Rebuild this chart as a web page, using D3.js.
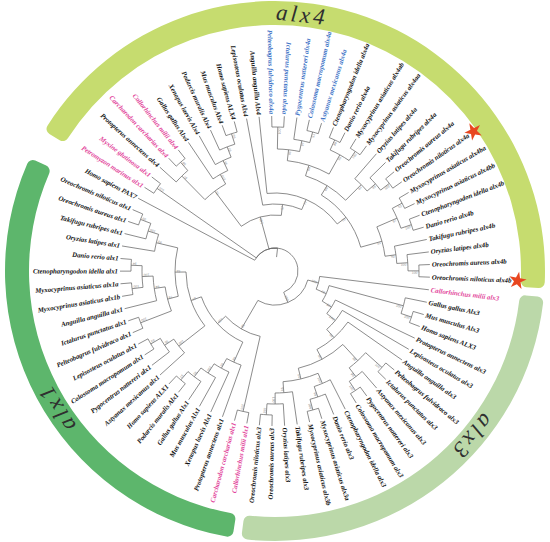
<!DOCTYPE html>
<html>
<head>
<meta charset="utf-8">
<script src="https://cdn.jsdelivr.net/npm/d3@7"></script>
<style>
body { margin: 0; background: #fff; }
.leaf { font-family: "Liberation Serif", "Times New Roman", serif; font-style: italic; font-weight: bold; font-size: 6.8px; }
.boot { font-family: "Liberation Sans", Arial, sans-serif; font-size: 3.4px; fill: #8a8a8a; }
.clade-label { font-family: "Liberation Serif", serif; font-style: italic; font-size: 23px; fill: #2f2f2f; }
</style>
</head>
<body>
<script>
// leaf names, clockwise from the PAX7 outgroup
var leafNames = [
    "Homo sapiens PAX7", "Petromyzon marinus alx1", "Myxine glutinosa alx1",
    "Protopterus annectens alx4", "Carcharodon carcharias alx4", "Callorhinchus milii alx4",
    "Gallus gallus Alx4", "Xenopus laevis Alx4", "Podarcis muralis Alx4", "Mus musculus Alx4",
    "Homo sapiens ALX4", "Lepisosteus oculatus Alx4", "Anguilla anguilla Alx4",
    "Pelteobagrus fulvidraco alx4a", "Ictalurus punctatus alx4a", "Pygocentrus nattereri alx4a",
    "Colossoma macropomum alx4a", "Astyanax mexicanus alx4a", "Ctenopharyngodon idella alx4a",
    "Danio rerio alx4a", "Myxocyprinus asiaticus alx4ab", "Myxocyprinus asiaticus alx4aa",
    "Oryzias latipes alx4a", "Takifugu rubripes alx4a", "Oreochromis aureus alx4a",
    "Oreochromis niloticus alx4a", "Myxocyprinus asiaticus alx4ba", "Myxocyprinus asiaticus alx4bb",
    "Ctenopharyngodon idella alx4b", "Danio rerio alx4b", "Takifugu rubripes alx4b",
    "Oryzias latipes alx4b", "Oreochromis aureus alx4b", "Oreochromis niloticus alx4b",
    "Callorhinchus milii alx3", "Gallus gallus Alx3", "Mus musculus Alx3", "Homo sapiens ALX3",
    "Protopterus annectens alx3", "Lepisosteus oculatus alx3", "Anguilla anguilla alx3",
    "Pelteobagrus fulvidraco alx3", "Ictalurus punctatus alx3", "Astyanax mexicanus alx3",
    "Pygocentrus nattereri alx3", "Colossoma macropomum alx3", "Ctenopharyngodon idella alx3",
    "Danio rerio alx3", "Myxocyprinus asiaticus alx3a", "Myxocyprinus asiaticus alx3b",
    "Takifugu rubripes alx3", "Oryzias latipes alx3", "Oreochromis aureus alx3",
    "Oreochromis niloticus alx3", "Callorhinchus milii alx1", "Carcharodon carcharias alx1",
    "Protopterus annectens alx1", "Xenopus laevis Alx1", "Mus musculus Alx1", "Gallus gallus Alx1",
    "Podarcis muralis Alx1", "Homo sapiens ALX1", "Astyanax mexicanus alx1",
    "Pygocentrus nattereri alx1", "Colossoma macropomum alx1", "Lepisosteus oculatus alx1",
    "Pelteobagrus fulvidraco alx1", "Ictalurus punctatus alx1", "Anguilla anguilla alx1",
    "Myxocyprinus asiaticus alx1b", "Myxocyprinus asiaticus alx1a", "Ctenopharyngodon idella alx1",
    "Danio rerio alx1", "Oryzias latipes alx1", "Takifugu rubripes alx1",
    "Oreochromis aureus alx1", "Oreochromis niloticus alx1"
];
var pinkLeaves = [1, 2, 4, 5, 34, 54, 55];
var blueLeaves = [13, 14, 15, 16, 17];
var starLeaves = [25, 33];

var cladeNames = ["alx4", "alx3", "alx1"];
var cladeFirst = [1, 34, 54];
var cladeLast = [33, 53, 76];

// topology: leaf indices, bootstrap after each ")"
var f4cart = "(3,(4,5)98)87";
var f4tet = "(6,(7,(8,(9,10)99)97)95)100";
var f4blue = "((13,14)100,(15,(16,17)51)97)66";
var f4cyp = "((18,19)88,(20,21)100)95";
var f4acA = "(22,(23,(24,25)100)99)93";
var f4b = "(((26,27)52,(28,29)100)97,(30,(31,(32,33)100)100)93)51";
var shapeAlx4 = "((" + f4cart + "," + f4tet + ")75,(11,(12,(((" + f4blue + "," + f4cyp + ")84," + f4acA + ")88," + f4b + ")75)77)57)100";

var f3tet = "(35,(36,37)100)100";
var f3sil = "(41,42)100";
var f3cha = "(43,(44,45)100)99";
var f3cyp = "(46,(47,(48,49)100)99)100";
var f3ac = "(50,(51,(52,53)100)100)97";
var shapeAlx3 = "(34,(" + f3tet + ",(38,(39,(40,((" + f3sil + "," + f3cha + ")88,(" + f3cyp + "," + f3ac + ")54)93)99)100)96)75)100";

var f1tet = "(57,(58,(59,(60,61)97)90)100)99";
var f1cha = "(62,(63,(64,65)93)96)100";
var f1cyp = "((69,70)100,(71,72)94)100";
var f1ac = "(73,(74,(75,76)99)100)93";
var shapeAlx1 = "((54,55)100,((56," + f1tet + ")98,(" + f1cha + ",(((66,67)100,(68," + f1cyp + ")94)78," + f1ac + ")54)87)100)98";

var treeShape = "(0,(1,2)100," + shapeAlx4 + ",(" + shapeAlx3 + "," + shapeAlx1 + ")100)";

function parseShape(s)
{
    var i = 0;
    function node()
    {
        if (s[i] === "(")
        {
            i++;
            var kids = [node()];
            while (s[i] === ",") { i++; kids.push(node()); }
            i++;
            var num = "";
            while (i < s.length && /[0-9]/.test(s[i])) num += s[i++];
            return { children: kids, support: num };
        }
        var n = "";
        while (/[0-9]/.test(s[i])) n += s[i++];
        return { leaf: +n };
    }
    return node();
}

var W = 550, H = 542, cx = 275, cy = 271;
var nLeaves = leafNames.length;
var step = 360 / nLeaves;

var svg = d3.select("body").append("svg")
    .attr("width", W)
    .attr("height", H);
var g = svg.append("g")
    .attr("transform", "translate(" + cx + "," + cy + ")");

var root = d3.hierarchy(parseShape(treeShape));
d3.cluster().size([1, 1]).separation(function() { return 1; })(root);

var angle = d3.scaleLinear().domain([0, 1]).range([-62 - step / 2, -62 - step / 2 + 360]);
var radius = d3.scaleLinear().domain([0, 1]).range([23, 155]);

var leafNode = [];
root.leaves().forEach(function(d) { leafNode[d.data.leaf] = d; });

function rad(a) { return a * Math.PI / 180; }
function px(a, r) { return r * Math.sin(rad(a)); }
function py(a, r) { return -r * Math.cos(rad(a)); }

// coloured ring
var ring = d3.arc().innerRadius(246).outerRadius(270).cornerRadius(6);
var ringColors = ["#c6dc6f", "#bbd8a9", "#5db66c"];
cladeNames.forEach(function(name, k)
{
    var a0 = angle(leafNode[cladeFirst[k]].x) - step * 0.3;
    var a1 = angle(leafNode[cladeLast[k]].x) + step * 0.3;
    g.append("path")
        .attr("d", ring({ startAngle: rad(a0), endAngle: rad(a1) }))
        .attr("fill", ringColors[k]);
});

var labelAngles = [6, 130, 238];
cladeNames.forEach(function(name, k)
{
    var a = labelAngles[k];
    g.append("text")
        .attr("class", "clade-label")
        .attr("transform", "translate(" + px(a, 257) + "," + py(a, 257) + ") rotate(" + a + ")")
        .attr("text-anchor", "middle")
        .attr("dy", "0.3em")
        .attr("letter-spacing", 3)
        .text(name);
});

// branches
function linkStep(a0, r0, a1, r1)
{
    var p = "M" + px(a0, r0) + "," + py(a0, r0);
    if (a0 !== a1)
        p += "A" + r0 + "," + r0 + " 0 0 " + (a1 > a0 ? 1 : 0) + " " + px(a1, r0) + "," + py(a1, r0);
    return p + "L" + px(a1, r1) + "," + py(a1, r1);
}

g.append("g").selectAll("path")
    .data(root.links())
    .join("path")
    .attr("d", function(d) {
        return linkStep(angle(d.source.x), radius(d.source.y), angle(d.target.x), radius(d.target.y));
    })
    .attr("fill", "none")
    .attr("stroke", "#666")
    .attr("stroke-width", 0.75);

// root stub
g.append("path")
    .attr("d", linkStep(angle(root.x), radius(root.y) - 9, angle(root.x), radius(root.y)))
    .attr("stroke", "#666")
    .attr("stroke-width", 0.75);

// bootstrap values
g.append("g").selectAll("text")
    .data(root.descendants().filter(function(d) { return d.children && d.depth > 0 && d.data.support; }))
    .join("text")
    .attr("class", "boot")
    .attr("transform", function(d) {
        var a = angle(d.x) + 1.2, r = radius(d.y) - 1.5;
        return "translate(" + px(a, r) + "," + py(a, r) + ") rotate(" + (a - 90) + ")";
    })
    .attr("text-anchor", "end")
    .text(function(d) { return d.data.support; });

// leaf labels
function flipped(a)
{
    var n = ((a % 360) + 360) % 360;
    return n > 177 || n < 5;
}

var labels = g.append("g").selectAll("text")
    .data(root.leaves())
    .join("text")
    .attr("class", "leaf")
    .attr("transform", function(d) {
        var a = angle(d.x);
        return "rotate(" + (a - 90) + ") translate(" + (radius(d.y) + 2) + ",0)" + (flipped(a) ? " rotate(180)" : "");
    })
    .attr("text-anchor", function(d) { return flipped(angle(d.x)) ? "end" : "start"; })
    .attr("dy", "0.33em")
    .attr("fill", function(d) {
        if (pinkLeaves.indexOf(d.data.leaf) >= 0) return "#e2449a";
        if (blueLeaves.indexOf(d.data.leaf) >= 0) return "#3d72c6";
        return "#111";
    })
    .text(function(d) { return leafNames[d.data.leaf]; });

// stars after the two tilapia labels
var star = d3.symbol().type(d3.symbolStar).size(95);
labels.each(function(d)
{
    if (starLeaves.indexOf(d.data.leaf) < 0) return;
    var a = angle(d.x);
    var r = radius(d.y) + 2 + this.getComputedTextLength() + 6;
    g.append("path")
        .attr("d", star())
        .attr("transform", "translate(" + px(a, r) + "," + py(a, r) + ") rotate(" + (a - 10) + ")")
        .attr("fill", "#e8461f");
});
</script>
</body>
</html>
